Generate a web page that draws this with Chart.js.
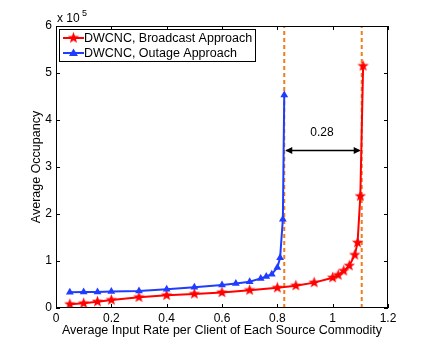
<!DOCTYPE html>
<html lang="en">
<head>
    <meta charset="UTF-8">
    <title>Average Occupancy vs Input Rate</title>
    <script src="https://cdn.jsdelivr.net/npm/chart.js"></script>
    <style>
        html, body { margin: 0; padding: 0; background: #fff; }
        #wrap { width: 429px; height: 347px; }
    </style>
</head>
<body>
    <div id="wrap"><canvas id="occChart" width="429" height="347"></canvas></div>

    <script>
        // data
        const broadcastX = [0.05, 0.1, 0.15, 0.2, 0.3, 0.4, 0.5, 0.6, 0.7, 0.8, 0.867, 0.933, 1.0, 1.02, 1.04, 1.06, 1.08, 1.09, 1.1, 1.11];
        const broadcastY = [8000, 10000, 13500, 17000, 23000, 27000, 30000, 33000, 38000, 43000, 47500, 54000, 64500, 70000, 79000, 90000, 113000, 139000, 238000, 515000];
        const outageX = [0.05, 0.1, 0.15, 0.2, 0.3, 0.4, 0.5, 0.6, 0.65, 0.7, 0.74, 0.76, 0.78, 0.8, 0.81, 0.82, 0.825];
        const outageY = [33500, 34000, 34000, 35000, 36000, 40000, 44000, 49000, 52000, 56000, 63000, 67000, 72000, 86000, 107000, 189000, 453000];
        const limitX = [0.825, 1.105];      // dashed vertical lines
        const gapY = 335000;                // height of the double arrow
        const gapLabel = '0.28';
        const seriesNames = ['DWCNC, Broadcast Approach', 'DWCNC, Outage Approach'];

        const RED = '#ff0000';
        const BLUE = '#1f3dff';
        const ORANGE = '#f07d1a';
        const FONT = '"Liberation Sans", Arial, Helvetica, sans-serif';

        // filled five point star used as the red marker
        function makeStar(size, color) {
            const c = document.createElement('canvas');
            c.width = size; c.height = size;
            const g = c.getContext('2d');
            const cx = size / 2, cy = size / 2, ro = size / 2 - 0.5, ri = ro * 0.42;
            g.beginPath();
            for (let i = 0; i < 10; i++) {
                const r = i % 2 ? ri : ro;
                const a = -Math.PI / 2 + i * Math.PI / 5;
                g.lineTo(cx + r * Math.cos(a), cy + r * Math.sin(a));
            }
            g.closePath();
            g.fillStyle = color;
            g.fill();
            return c;
        }
        const star = makeStar(13, RED);

        const toPts = (xs, ys) => xs.map((x, i) => ({ x: x, y: ys[i] }));

        const extras = {
            id: 'extras',
            afterDatasetsDraw(chart) {
                const { ctx, chartArea: a, scales: { x, y } } = chart;
                ctx.save();

                // axes box with inward ticks
                ctx.strokeStyle = '#000';
                ctx.lineWidth = 1;
                ctx.strokeRect(a.left + 0.5, a.top + 0.5, a.right - a.left - 1, a.bottom - a.top - 1);
                ctx.beginPath();
                x.ticks.forEach(t => {
                    const px = Math.round(x.getPixelForValue(t.value)) + 0.5;
                    ctx.moveTo(px, a.bottom); ctx.lineTo(px, a.bottom - 4);
                    ctx.moveTo(px, a.top); ctx.lineTo(px, a.top + 4);
                });
                y.ticks.forEach(t => {
                    const py = Math.round(y.getPixelForValue(t.value)) + 0.5;
                    ctx.moveTo(a.left, py); ctx.lineTo(a.left + 4, py);
                    ctx.moveTo(a.right, py); ctx.lineTo(a.right - 4, py);
                });
                ctx.stroke();

                // exponent label
                ctx.fillStyle = '#000';
                ctx.textBaseline = 'alphabetic';
                ctx.textAlign = 'left';
                ctx.font = '12px ' + FONT;
                ctx.fillText('x 10', a.left + 1, a.top - 4);
                ctx.font = '9px ' + FONT;
                ctx.fillText('5', a.left + 26, a.top - 10);

                // double arrow between the two limits
                const x1 = x.getPixelForValue(limitX[0]);
                const x2 = x.getPixelForValue(limitX[1]);
                const ay = y.getPixelForValue(gapY);
                ctx.strokeStyle = '#000';
                ctx.lineWidth = 1.5;
                ctx.beginPath();
                ctx.moveTo(x1 + 2, ay); ctx.lineTo(x2 - 2, ay);
                ctx.stroke();
                ctx.fillStyle = '#000';
                ctx.beginPath();
                ctx.moveTo(x1 + 1, ay); ctx.lineTo(x1 + 8, ay - 3.5); ctx.lineTo(x1 + 8, ay + 3.5); ctx.closePath();
                ctx.moveTo(x2 - 1, ay); ctx.lineTo(x2 - 8, ay - 3.5); ctx.lineTo(x2 - 8, ay + 3.5); ctx.closePath();
                ctx.fill();
                ctx.font = '12px ' + FONT;
                ctx.textAlign = 'center';
                ctx.textBaseline = 'middle';
                ctx.fillText(gapLabel, (x1 + x2) / 2 - 1, ay - 18);

                // legend box
                const lx = a.left + 3, ly = a.top + 3, lw = 196, lh = 32;
                ctx.fillStyle = '#fff';
                ctx.fillRect(lx, ly, lw, lh);
                ctx.strokeStyle = '#000';
                ctx.lineWidth = 1;
                ctx.strokeRect(lx + 0.5, ly + 0.5, lw, lh);
                const rows = [
                    { color: RED, y: ly + 9 },
                    { color: BLUE, y: ly + 24 }
                ];
                rows.forEach((r, i) => {
                    ctx.strokeStyle = r.color;
                    ctx.lineWidth = 2;
                    ctx.beginPath();
                    ctx.moveTo(lx + 4, r.y); ctx.lineTo(lx + 25, r.y);
                    ctx.stroke();
                    const mx = lx + 14.5;
                    if (i === 0) {
                        ctx.drawImage(star, mx - 6.5, r.y - 6.5);
                    } else {
                        ctx.fillStyle = r.color;
                        ctx.beginPath();
                        ctx.moveTo(mx, r.y - 4.5); ctx.lineTo(mx + 4.5, r.y + 3); ctx.lineTo(mx - 4.5, r.y + 3);
                        ctx.closePath();
                        ctx.fill();
                    }
                    ctx.fillStyle = '#000';
                    ctx.font = '12.5px ' + FONT;
                    ctx.textAlign = 'left';
                    ctx.textBaseline = 'middle';
                    ctx.fillText(seriesNames[i], lx + 25, r.y + 0.5);
                });

                ctx.restore();
            }
        };

        const ctx = document.getElementById('occChart').getContext('2d');

        new Chart(ctx, {
            type: 'scatter',
            data: {
                datasets: [
                    {
                        label: seriesNames[1],
                        data: toPts(outageX, outageY),
                        showLine: true,
                        borderColor: BLUE,
                        backgroundColor: BLUE,
                        borderWidth: 2,
                        pointStyle: 'triangle',
                        pointRadius: 4.5,
                        pointBorderWidth: 0
                    },
                    {
                        label: seriesNames[0],
                        data: toPts(broadcastX, broadcastY),
                        showLine: true,
                        borderColor: RED,
                        backgroundColor: RED,
                        borderWidth: 2,
                        pointStyle: star,
                        pointRadius: 6
                    },
                    {
                        label: 'limit1',
                        data: [{ x: limitX[0], y: 0 }, { x: limitX[0], y: 600000 }],
                        showLine: true,
                        borderColor: ORANGE,
                        borderWidth: 2,
                        borderDash: [4, 3],
                        pointRadius: 0
                    },
                    {
                        label: 'limit2',
                        data: [{ x: limitX[1], y: 0 }, { x: limitX[1], y: 600000 }],
                        showLine: true,
                        borderColor: ORANGE,
                        borderWidth: 2,
                        borderDash: [4, 3],
                        pointRadius: 0
                    }
                ]
            },
            options: {
                responsive: false,
                animation: false,
                events: [],
                layout: { padding: { left: 0, right: 41, top: 26, bottom: 0 } },
                plugins: {
                    legend: { display: false },
                    tooltip: { enabled: false }
                },
                scales: {
                    x: {
                        type: 'linear',
                        min: 0,
                        max: 1.2,
                        afterFit: s => { s.height = 39; },
                        ticks: {
                            stepSize: 0.2,
                            autoSkip: false,
                            maxRotation: 0,
                            padding: 3,
                            color: '#000',
                            font: { family: FONT, size: 12 },
                            callback: v => String(Math.round(v * 10) / 10)
                        },
                        grid: { display: false, drawTicks: false },
                        border: { display: false },
                        title: {
                            display: true,
                            text: 'Average Input Rate per Client of Each Source Commodity',
                            color: '#000',
                            font: { family: FONT, size: 12.5 },
                            padding: { top: 0, bottom: 9 }
                        }
                    },
                    y: {
                        min: 0,
                        max: 600000,
                        afterFit: s => { s.width = 56; },
                        ticks: {
                            stepSize: 100000,
                            autoSkip: false,
                            padding: 4,
                            color: '#000',
                            font: { family: FONT, size: 12 },
                            callback: v => String(Math.round(v / 100000))
                        },
                        grid: { display: false, drawTicks: false },
                        border: { display: false },
                        title: {
                            display: true,
                            text: 'Average Occupancy',
                            color: '#000',
                            font: { family: FONT, size: 12.5 },
                            padding: { top: 29, bottom: 0 }
                        }
                    }
                }
            },
            plugins: [extras]
        });
    </script>
</body>
</html>
